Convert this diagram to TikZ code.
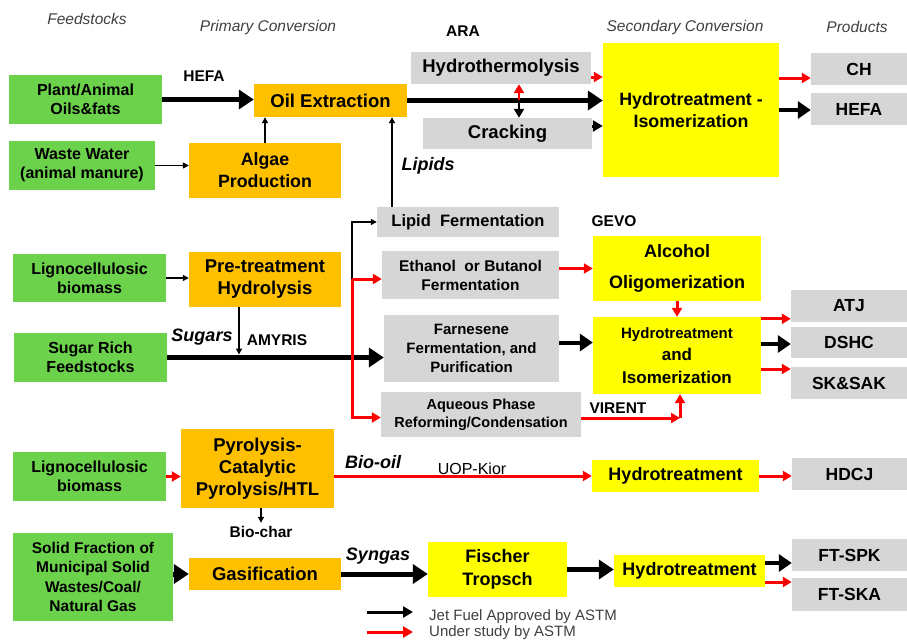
\documentclass[tikz,border=0pt]{standalone}
\usepackage{fontspec}
\setmainfont{Liberation Sans}
\usetikzlibrary{arrows.meta}
\definecolor{c_green}{HTML}{6CD24C}
\definecolor{c_orange}{HTML}{FFC000}
\definecolor{c_yellow}{HTML}{FFFF00}
\definecolor{c_gray}{HTML}{D6D6D6}
\definecolor{c_red}{HTML}{FF0000}
\definecolor{c_text}{HTML}{404040}

\begin{document}
\begin{tikzpicture}[
    x=1pt, y=-1pt,
    wh/.style 2 args={minimum width=#1pt, minimum height=#2pt},
    box/.style={inner sep=0pt, align=center, font=\bfseries\fontsize{18.5}{22}\selectfont},
    feed/.style={box, fill=c_green, font=\bfseries\fontsize{16}{19}\selectfont},
    primary/.style={box, fill=c_orange},
    process/.style={box, fill=c_gray},
    upgrade/.style={box, fill=c_yellow},
    product/.style={box, fill=c_gray, font=\bfseries\fontsize{17.5}{21}\selectfont},
    heading/.style={font=\itshape\fontsize{15.5}{18}\selectfont, text=c_text},
    route/.style={font=\bfseries\fontsize{15.5}{18}\selectfont},
    stream/.style={font=\bfseries\itshape\fontsize{18}{21}\selectfont},
    legendtext/.style={font=\fontsize{15}{18}\selectfont, text=c_text, inner sep=0pt},
    heavy/.style={draw=black, line width=5pt, -{Triangle[length=15pt, width=19pt]}},
    medium/.style={draw=black, line width=4pt, -{Triangle[length=13pt, width=17pt]}},
    short/.style={draw=black, line width=3pt, -{Triangle[length=10pt, width=11pt]}},
    light/.style={draw=black, line width=1.3pt, -{Triangle[length=6pt, width=6pt]}},
    study/.style={draw=c_red, line width=3pt, -{Triangle[length=9pt, width=10pt]}}
]
\fill[white] (0,0) rectangle (907,640);
\useasboundingbox (0,0) rectangle (907,640);

%% ================================================================
%% Spaltenkoepfe
%% ================================================================
\node[heading] (hd_feed) at (87,19) {Feedstocks};
\node[heading] (hd_primary) at (268,27) {Primary Conversion};
\node[heading] (hd_secondary) at (685,27) {Secondary Conversion};
\node[heading] (hd_products) at (857,27) {Products};

%% ================================================================
%% Feedstocks (gruen)
%% ================================================================
\node[feed, wh={153}{49}] (plantoil) at (85.5,99.5) {Plant/Animal\\Oils\&fats};
\node[feed, wh={146}{49}] (wastewater) at (82,165.5) {Waste Water\\(animal manure)};
\node[feed, wh={153}{48}] (ligno1) at (89.5,278) {Lignocellulosic\\biomass};
\node[feed, wh={153}{49}] (sugarrich) at (90.5,357.5) {Sugar Rich\\Feedstocks};
\node[feed, wh={153}{49}] (ligno2) at (89.5,476.5) {Lignocellulosic\\biomass};
\node[feed, wh={160}{88}, font=\bfseries\fontsize{15.5}{19.5}\selectfont]
    (solidwaste) at (93,577) {Solid Fraction of\\Municipal Solid\\Wastes/Coal/\\Natural Gas};

%% ================================================================
%% Primary Conversion (orange) und Zwischenschritte (grau)
%% ================================================================
\node[primary, wh={153}{33}] (oilext) at (330.5,100.5) {Oil Extraction};
\node[primary, wh={152}{55}, font=\bfseries\fontsize{17.8}{22}\selectfont]
    (algae) at (265,170.5) {Algae\\Production};
\node[primary, wh={152}{55}] (pretreat) at (265,279.5) {Pre-treatment\\Hydrolysis};
\node[primary, wh={153}{79}] (pyrolysis) at (257.5,468.5) {Pyrolysis-\\Catalytic\\Pyrolysis/HTL};
\node[primary, wh={152}{32}] (gasif) at (265,574) {Gasification};

\node[process, wh={180}{32}] (hythermo) at (501,68) {Hydrothermolysis};
\node[process, wh={169}{31}] (cracking) at (507.5,133.5) {Cracking};
\node[process, wh={182}{30}, font=\bfseries\fontsize{16.5}{20}\selectfont]
    (lipidferm) at (468,222) {Lipid~~Fermentation};
\node[process, wh={177}{48}, font=\bfseries\fontsize{15.5}{19}\selectfont]
    (ethanolferm) at (470.5,275) {Ethanol~~or Butanol\\Fermentation};
\node[process, wh={175}{67}, font=\bfseries\fontsize{15}{19}\selectfont]
    (farnesene) at (471.5,348.5) {Farnesene\\Fermentation, and\\Purification};
\node[process, wh={200}{45}, font=\bfseries\fontsize{14.5}{18}\selectfont]
    (aqueous) at (481,414.5) {Aqueous Phase\\Reforming/Condensation};

%% ================================================================
%% Secondary Conversion (gelb)
%% ================================================================
\node[upgrade, wh={176}{134}, font=\bfseries\fontsize{17.8}{22}\selectfont]
    (hydroiso) at (691,110) {Hydrotreatment -\\Isomerization};
\node[upgrade, wh={168}{65}, font=\bfseries\fontsize{18}{31}\selectfont]
    (alcohol) at (677,268.5) {Alcohol\\Oligomerization};
\node[upgrade, wh={168}{77}, font=\bfseries\fontsize{17}{22.5}\selectfont]
    (hydroiso2) at (677,355.5) {{\fontsize{15}{22.5}\selectfont Hydrotreatment}\\and\\Isomerization};
\node[upgrade, wh={167}{32}, font=\bfseries\fontsize{18}{22}\selectfont]
    (hydro1) at (675.5,476) {Hydrotreatment};
\node[upgrade, wh={139}{55}, font=\bfseries\fontsize{18}{23}\selectfont]
    (fischer) at (497.5,569.5) {Fischer\\Tropsch};
\node[upgrade, wh={151}{32}, font=\bfseries\fontsize{18}{22}\selectfont]
    (hydro2) at (689.5,571) {Hydrotreatment};

%% ================================================================
%% Products (grau)
%% ================================================================
\node[product, wh={96}{32}] (ch) at (859,69) {CH};
\node[product, wh={96}{32}] (hefa) at (859,109) {HEFA};
\node[product, wh={116}{32}] (atj) at (849,306) {ATJ};
\node[product, wh={116}{31}] (dshc) at (849,342.5) {DSHC};
\node[product, wh={116}{32}] (sksak) at (849,383) {SK\&SAK};
\node[product, wh={115}{32}] (hdcj) at (849.5,474) {HDCJ};
\node[product, wh={115}{32}] (ftspk) at (849.5,555) {FT-SPK};
\node[product, wh={115}{33}] (ftska) at (849.5,594.5) {FT-SKA};

%% --- Pfad- und Stromlabels ---
\node[route] (lb_hefa) at (204,76) {HEFA};
\node[route] (lb_ara) at (463,31) {ARA};
\node[route] (lb_gevo) at (614,221) {GEVO};
\node[route] (lb_amyris) at (277,340) {AMYRIS};
\node[route] (lb_virent) at (618,408) {VIRENT};
\node[font=\fontsize{16}{18}\selectfont] (lb_uop) at (472,469) {UOP-Kior};
\node[route] (biochar) at (261,532) {Bio-char};
\node[stream] (st_lipids) at (428,166) {Lipids};
\node[stream] (st_sugars) at (202,337) {Sugars};
\node[stream] (st_biooil) at (373,462) {Bio-oil};
\node[stream] (st_syngas) at (378,556) {Syngas};

%% ================================================================
%% Pfeile: Oele und Fette
%% ================================================================
\draw[heavy] (plantoil.east) -- (plantoil.east -| oilext.west);
\draw[light] (wastewater.east) -- (wastewater.east -| algae.west);
\draw[light] (algae.north) -- (algae.north |- oilext.south);
\draw[heavy, line width=5.5pt] (oilext.east) -- (oilext.east -| hydroiso.west);
\coordinate (splitara) at (519,100);
\draw[study, line width=2.4pt] (splitara) -- (splitara |- hythermo.south);
\draw[light, line width=2pt, -{Triangle[length=9pt, width=10pt]}]
    (splitara) -- (splitara |- cracking.north);
\draw[study] ([yshift=-9pt]hythermo.east) -- ([yshift=-9pt]hythermo.east -| hydroiso.west);
\draw[short] ([yshift=7.5pt]cracking.east) -- ([yshift=7.5pt]cracking.east -| hydroiso.west);
\draw[study] ([yshift=-9pt]ch.west -| hydroiso.east) -- ([yshift=-9pt]ch.west);
\draw[medium] (hydroiso.east) -- (hydroiso.east -| hefa.west);
\draw[light] ([xshift=-76pt]lipidferm.north) -- ([xshift=-76pt]lipidferm.north |- oilext.south);

%% ================================================================
%% Pfeile: Zucker und Lignocellulose
%% ================================================================
\draw[light] (ligno1.east) -- (ligno1.east -| pretreat.west);
\draw[heavy, line width=5.5pt] (sugarrich.east) -- (sugarrich.east -| farnesene.west);
\draw[light] ([xshift=-26pt]pretreat.south)
    -- ([xshift=-26pt, yshift=3pt]pretreat.south |- sugarrich.east);
\coordinate (fork) at (352,279);
\draw[light] (fork) |- (lipidferm.west);
\draw[study] (fork) -- (fork -| ethanolferm.west);
\draw[study] (fork) |- ([yshift=-3pt]aqueous.west);
\draw[study] (ethanolferm.east |- alcohol.west) -- (alcohol.west);
\draw[study] (alcohol.south) -- (hydroiso2.north);
\draw[medium] ([yshift=6pt]farnesene.east) -- ([yshift=6pt]farnesene.east -| hydroiso2.west);
\coordinate (virentjoin) at (680,418);
\draw[study] ([yshift=-3.5pt]aqueous.east) -- (virentjoin);
\draw[study] (virentjoin) -- (virentjoin |- hydroiso2.south);
\draw[study] ([yshift=-2pt]hydroiso2.north east) -- ([yshift=-2pt]hydroiso2.north east -| atj.west);
\draw[medium] ([yshift=11.5pt]hydroiso2.east) -- ([yshift=11.5pt]hydroiso2.east -| dshc.west);
\draw[study] ([yshift=-13.5pt]hydroiso2.east) -- ([yshift=-13.5pt]hydroiso2.east -| sksak.west);

%% ================================================================
%% Pfeile: Pyrolyse und Vergasung
%% ================================================================
\draw[study] (ligno2.east) -- (ligno2.east -| pyrolysis.west);
\draw[study] (pyrolysis.east |- hydro1.west) -- (hydro1.west);
\draw[light] (biochar.north |- pyrolysis.south) -- (biochar.north);
\draw[study] (hydro1.east) -- (hydro1.east -| hdcj.west);
\draw[heavy] (gasif.west -| solidwaste.east) -- (gasif.west);
\draw[heavy] (gasif.east) -- (gasif.east -| fischer.west);
\draw[heavy] (fischer.east) -- (fischer.east -| hydro2.west);
\draw[medium] ([yshift=8pt]hydro2.east) -- ([yshift=8pt]hydro2.east -| ftspk.west);
\draw[study] ([yshift=-11pt]hydro2.east) -- ([yshift=-11pt]hydro2.east -| ftska.west);

%% --- Legende ---
\coordinate (leg_a1) at (367,612);
\coordinate (leg_a2) at (413,612);
\coordinate (leg_b1) at (367,632);
\coordinate (leg_b2) at (413,632);
\draw[short] (leg_a1) -- (leg_a2);
\draw[study, line width=3pt, -{Triangle[length=10pt, width=11pt]}] (leg_b1) -- (leg_b2);
\node[legendtext, anchor=base west] (leg_jet) at (429,620) {Jet Fuel Approved by ASTM};
\node[legendtext, anchor=base west] (leg_study) at (429,636) {Under study by ASTM};

\end{tikzpicture}
\end{document}
